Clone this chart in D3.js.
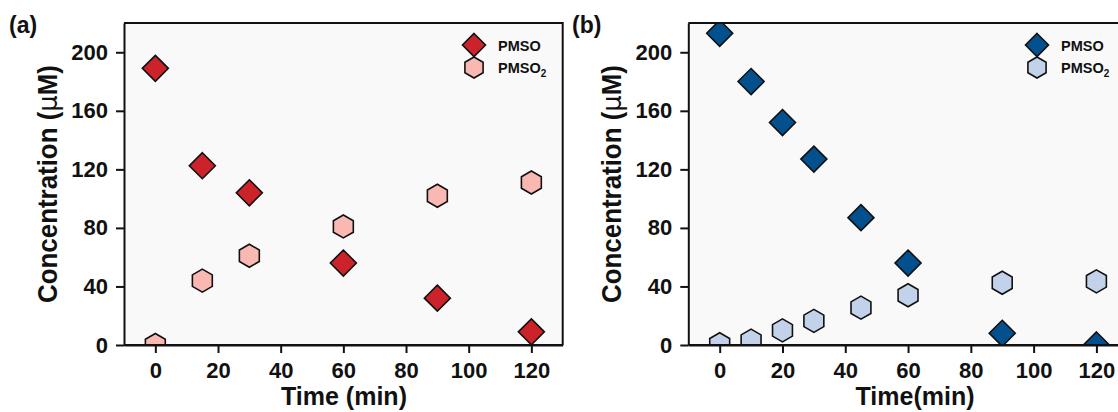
<!DOCTYPE html>
<html>
<head>
<meta charset="utf-8">
<script src="https://cdn.jsdelivr.net/npm/d3@7"></script>
<style>
  html, body { margin: 0; padding: 0; background: #ffffff; }
  svg { display: block; font-family: "Liberation Sans", Arial, sans-serif; font-weight: bold; }
</style>
</head>
<body>
<svg id="chart" width="1118" height="412"></svg>
<script>
// Sampling times (min) and concentrations (µM)
const timeA = [0, 15, 30, 60, 90, 120];
const pmsoA = [189, 122.5, 104, 56, 32, 9];
const pmso2A = [0, 44, 61, 81, 102, 111];

const timeB = [0, 10, 20, 30, 45, 60, 90, 120];
const pmsoB = [213, 180, 152, 127, 87, 56, 8, 0];
const pmso2B = [0.5, 3, 10, 16.5, 25.5, 34, 42.5, 43.5];

const xTicks = [0, 20, 40, 60, 80, 100, 120];
const yTicks = [0, 40, 80, 120, 160, 200];
const seriesNames = ["PMSO", "PMSO2"];

const svg = d3.select("#chart");

const diamondR = 13;
const hexR = 11.5;
function diamondPath(r) {
  return `M0,${-r}L${r},0L0,${r}L${-r},0Z`;
}
function hexPath(r) {
  const pts = d3.range(6).map(i => {
    const a = -Math.PI / 2 + i * Math.PI / 3;
    return [r * Math.cos(a), r * Math.sin(a)];
  });
  return "M" + pts.map(p => p.join(",")).join("L") + "Z";
}

function legendLabel(g, name, x, y) {
  const t = g.append("text").attr("x", x).attr("y", y)
    .attr("font-size", 14.5).attr("fill", "#111");
  if (name === "PMSO2") {
    t.append("tspan").text("PMSO");
    t.append("tspan").text("2").attr("font-size", 10).attr("dy", 4);
  } else {
    t.text(name);
  }
}

function drawPanel(cfg) {
  const x = d3.scaleLinear().domain([-10, 130]).range([cfg.left, cfg.left + cfg.width]);
  const y = d3.scaleLinear().domain([0, 220]).range([345, 23]);
  const g = svg.append("g");

  const clipId = "clip-" + cfg.id;
  svg.append("clipPath").attr("id", clipId)
    .append("rect")
    .attr("x", x(-10)).attr("y", y(220))
    .attr("width", x(130) - x(-10)).attr("height", y(0) - y(220));

  // plot background
  g.append("rect")
    .attr("x", x(-10)).attr("y", y(220))
    .attr("width", x(130) - x(-10)).attr("height", y(0) - y(220))
    .attr("fill", "#f9f9f9");

  // data markers
  const marks = g.append("g").attr("clip-path", `url(#${clipId})`);
  marks.selectAll("path.hex")
    .data(cfg.time.map((t, i) => [t, cfg.pmso2[i]]))
    .join("path")
    .attr("class", "hex")
    .attr("d", hexPath(hexR))
    .attr("transform", d => `translate(${x(d[0])},${y(d[1])})`)
    .attr("fill", cfg.hexColor).attr("stroke", "#111").attr("stroke-width", 1.6);
  marks.selectAll("path.dia")
    .data(cfg.time.map((t, i) => [t, cfg.pmso[i]]))
    .join("path")
    .attr("class", "dia")
    .attr("d", diamondPath(diamondR))
    .attr("transform", d => `translate(${x(d[0])},${y(d[1])})`)
    .attr("fill", cfg.diaColor).attr("stroke", "#111").attr("stroke-width", 1.6);

  // frame (top and right)
  g.append("path")
    .attr("d", `M${x(-10)},${y(220)}H${x(130)}V${y(0)}`)
    .attr("fill", "none").attr("stroke", "#111").attr("stroke-width", 2);

  // axes
  const xAxis = g.append("g").attr("transform", `translate(0,${y(0)})`)
    .call(d3.axisBottom(x).tickValues(xTicks).tickSize(8).tickPadding(9).tickSizeOuter(0));
  const yAxis = g.append("g").attr("transform", `translate(${x(-10)},0)`)
    .call(d3.axisLeft(y).tickValues(yTicks).tickSize(8).tickPadding(8).tickSizeOuter(0));
  [xAxis, yAxis].forEach(a => {
    a.select(".domain").attr("stroke", "#111").attr("stroke-width", 2);
    a.selectAll(".tick line").attr("stroke", "#111").attr("stroke-width", 2);
    a.selectAll(".tick text").attr("fill", "#111").attr("font-size", 22)
      .attr("font-family", "Liberation Sans, Arial, sans-serif").attr("font-weight", "bold");
  });
  // extend the axis line to the plot corner
  g.append("path").attr("d", `M${x(-10)},${y(0)}H${x(130)}`)
    .attr("stroke", "#111").attr("stroke-width", 2);

  // axis titles
  g.append("text")
    .attr("x", cfg.xTitleX).attr("y", 405)
    .attr("text-anchor", "middle").attr("font-size", 25).attr("fill", "#111")
    .text(cfg.xTitle);
  const yt = g.append("text")
    .attr("transform", `translate(${x(-10) - 67},184) rotate(-90)`)
    .attr("text-anchor", "middle").attr("font-size", 27).attr("fill", "#111")
    .attr("textLength", 238).attr("lengthAdjust", "spacingAndGlyphs");
  yt.append("tspan").text("Concentration (");
  yt.append("tspan").text("\u03bc").attr("font-family", "DejaVu Sans, sans-serif").attr("font-weight", "normal");
  yt.append("tspan").text("M)");

  // panel label
  svg.append("text").attr("x", cfg.labelX).attr("y", 33)
    .attr("font-size", 23).attr("fill", "#111").text(cfg.label);

  // legend
  const lg = g.append("g");
  const legendRows = [
    { name: seriesNames[0], path: diamondPath(11.5), fill: cfg.diaColor, y: 45 },
    { name: seriesNames[1], path: hexPath(10.5), fill: cfg.hexColor, y: 67.5 }
  ];
  legendRows.forEach(r => {
    lg.append("path").attr("d", r.path)
      .attr("transform", `translate(${cfg.legendX},${r.y})`)
      .attr("fill", r.fill).attr("stroke", "#111").attr("stroke-width", 1.6);
    legendLabel(lg, r.name, cfg.legendX + 24, r.y + 5.5);
  });
}

drawPanel({
  id: "a", left: 124, width: 438.7,
  time: timeA, pmso: pmsoA, pmso2: pmso2A,
  diaColor: "#cc2229", hexColor: "#fab8b3",
  xTitle: "Time (min)", xTitleX: 344,
  label: "(a)", labelX: 9, legendX: 474
});
drawPanel({
  id: "b", left: 688.3, width: 439.5,
  time: timeB, pmso: pmsoB, pmso2: pmso2B,
  diaColor: "#03508f", hexColor: "#c3d2eb",
  xTitle: "Time(min)", xTitleX: 915,
  label: "(b)", labelX: 572, legendX: 1037
});
</script>
</body>
</html>
